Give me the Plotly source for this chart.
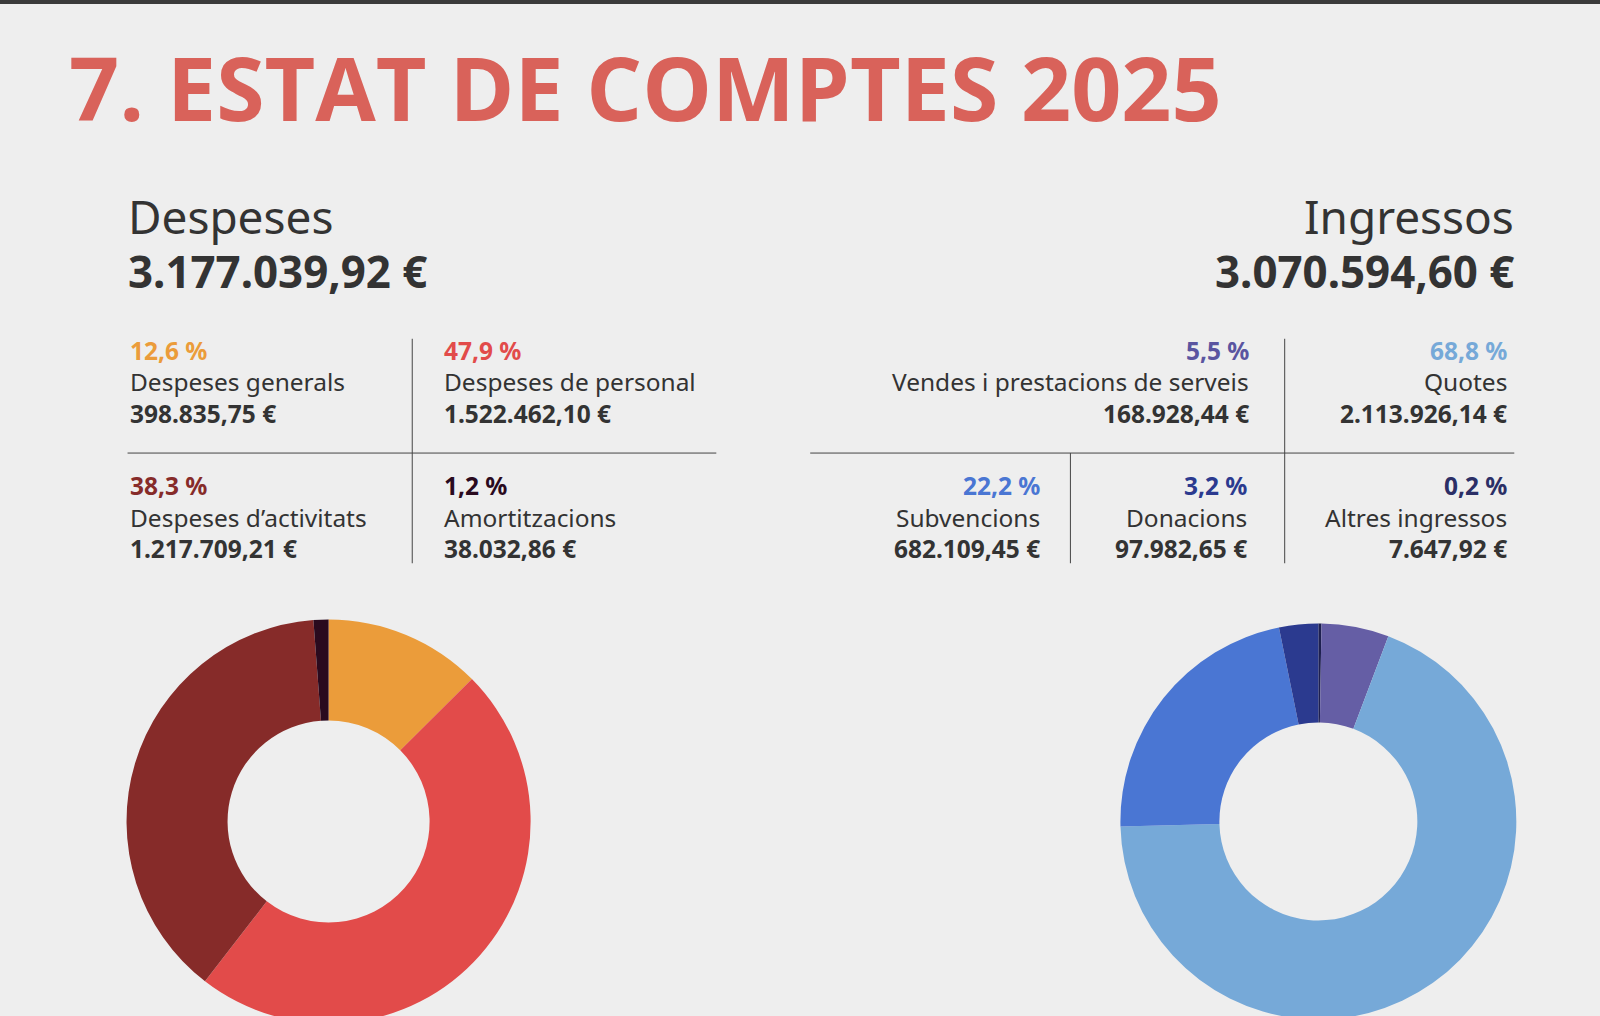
import plotly.graph_objects as go

W, H = 1600, 1250  # figure taller than the window so the donuts get cut at the bottom
S = 1600 / 1568

# data
desp_labels = ["Despeses generals", "Despeses de personal", "Despeses d\u2019activitats", "Amortitzacions"]
desp_values = [398835.75, 1522462.10, 1217709.21, 38032.86]
desp_pct = ["12,6 %", "47,9 %", "38,3 %", "1,2 %"]
desp_txt = ["398.835,75 \u20ac", "1.522.462,10 \u20ac", "1.217.709,21 \u20ac", "38.032,86 \u20ac"]
desp_colors = ["#eb9c3a", "#e24b4a", "#862b29", "#2a0a1e"]

ingr_labels = ["Altres ingressos", "Vendes i prestacions de serveis", "Quotes", "Subvencions", "Donacions"]
ingr_values = [7647.92, 168928.44, 2113926.14, 682109.45, 97982.65]
ingr_pct = ["0,2 %", "5,5 %", "68,8 %", "22,2 %", "3,2 %"]
ingr_txt = ["7.647,92 \u20ac", "168.928,44 \u20ac", "2.113.926,14 \u20ac", "682.109,45 \u20ac", "97.982,65 \u20ac"]
ingr_colors = ["#1e2050", "#655ea5", "#76a9d8", "#4a76d3", "#2b3a8f"]

desp_total = "3.177.039,92 \u20ac"
ingr_total = "3.070.594,60 \u20ac"

def px(x):
    return x * S / W

def py(y):
    return 1 - y * S / H

fig = go.Figure()
fig.add_trace(go.Pie(labels=desp_labels, values=desp_values, marker=dict(colors=desp_colors),
                     hole=0.5, sort=False, direction="clockwise", rotation=0, textinfo="none",
                     domain=dict(x=[px(124), px(520)], y=[py(1003), py(607)])))
fig.add_trace(go.Pie(labels=ingr_labels, values=ingr_values, marker=dict(colors=ingr_colors),
                     hole=0.5, sort=False, direction="clockwise", rotation=0, textinfo="none",
                     domain=dict(x=[px(1098), px(1486)], y=[py(999), py(611)])))

ann = []
def txt(x, y, s, size=24, color="#333333", bold=False, anchor="left"):
    ann.append(dict(x=px(x), y=py(y), xref="paper", yref="paper", text=f"<b>{s}</b>" if bold else s,
                    showarrow=False, xanchor=anchor, yanchor="middle",
                    font=dict(size=size * S, color=color, family="Noto Sans")))

ann.append(dict(x=px(66), y=py(85), xref="paper", yref="paper", text="<b>7. ESTAT DE COMPTES 2025</b>",
                showarrow=False, xanchor="left", yanchor="middle",
                font=dict(size=86 * S, color="#d9625a", family="Open Sans")))

txt(123, 212, "Despeses", size=45)
txt(123, 266, desp_total, size=43, bold=True)
txt(1486, 212, "Ingressos", size=45, anchor="right")
txt(1486, 266, ingr_total, size=43, bold=True, anchor="right")

# despeses table (left aligned)
desp_pos = [(125, 343), (433, 343), (125, 476), (433, 476)]
for (x, y), p, l, v, c in zip(desp_pos, desp_pct, desp_labels, desp_txt, desp_colors):
    txt(x, y, p, color=c, bold=True)
    txt(x, y + 31, l)
    txt(x, y + 62, v, bold=True)

# ingressos table (right aligned)
ingr_pos = [(1479, 476), (1226, 343), (1479, 343), (1021, 476), (1224, 476)]
pct_colors = ["#2b2f66", "#5a55a0", "#76a9d8", "#4a76d3", "#2b3a8f"]
for (x, y), p, l, v, c in zip(ingr_pos, ingr_pct, ingr_labels, ingr_txt, pct_colors):
    txt(x, y, p, color=c, bold=True, anchor="right")
    txt(x, y + 31, l, anchor="right")
    txt(x, y + 62, v, bold=True, anchor="right")

line = dict(color="#444444", width=1)
def seg(x0, y0, x1, y1):
    return dict(type="line", xref="paper", yref="paper", x0=px(x0), x1=px(x1), y0=py(y0), y1=py(y1), line=line)

shapes = [
    dict(type="rect", xref="paper", yref="paper", x0=0, x1=1, y0=py(4), y1=1, fillcolor="#3a3a3a", line=dict(width=0)),
    seg(404, 332, 404, 552),
    seg(125, 444, 702, 444),
    seg(1259, 332, 1259, 552),
    seg(1049, 444, 1049, 552),
    seg(794, 444, 1484, 444),
]

fig.update_layout(width=W, height=H, margin=dict(l=0, r=0, t=0, b=0), showlegend=False,
                  paper_bgcolor="#eeeeee", plot_bgcolor="#eeeeee", annotations=ann, shapes=shapes)

fig.write_html("out.html", config=dict(displayModeBar=False),
               post_script="document.body.style.overflow='hidden';document.body.style.margin='0';")
